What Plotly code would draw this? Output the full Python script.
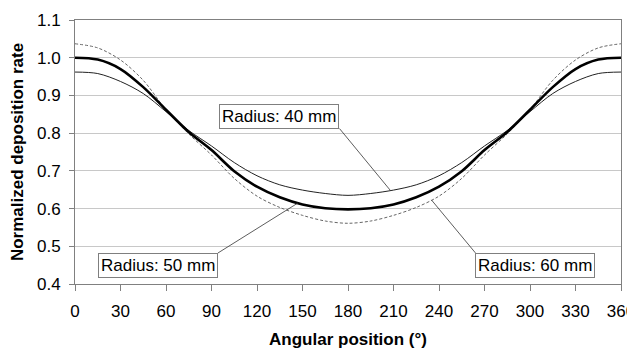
import numpy as np
import plotly.graph_objects as go

angles = [0, 15, 30, 45, 60, 75, 90, 105, 120, 135, 150, 165, 180,
          195, 210, 225, 240, 255, 270, 285, 300, 315, 330, 345, 360]

radius_40 = [0.962, 0.958, 0.937, 0.905, 0.857, 0.807, 0.766, 0.722, 0.687, 0.663, 0.649, 0.640, 0.635,
             0.640, 0.649, 0.663, 0.687, 0.722, 0.766, 0.807, 0.857, 0.905, 0.937, 0.958, 0.962]
radius_50 = [1.000, 0.995, 0.970, 0.922, 0.862, 0.803, 0.755, 0.699, 0.658, 0.630, 0.611, 0.601, 0.598,
             0.601, 0.611, 0.630, 0.658, 0.699, 0.755, 0.803, 0.862, 0.922, 0.970, 0.995, 1.000]
radius_60 = [1.037, 1.026, 0.994, 0.940, 0.862, 0.798, 0.742, 0.680, 0.633, 0.603, 0.582, 0.567, 0.561,
             0.567, 0.582, 0.603, 0.633, 0.680, 0.742, 0.798, 0.862, 0.940, 0.994, 1.026, 1.037]

labels = ["Radius: 40 mm", "Radius: 50 mm", "Radius: 60 mm"]
x_ticks = list(range(0, 361, 30))
y_ticks = [0.4, 0.5, 0.6, 0.7, 0.8, 0.9, 1.0, 1.1]

FONT = "Liberation Sans, Arial, sans-serif"

fig = go.Figure()
fig.add_trace(go.Scatter(x=angles, y=radius_60, mode="lines", name=labels[2],
                         line=dict(color="#666666", width=1, dash="3px,2px", shape="spline", smoothing=0.9)))
fig.add_trace(go.Scatter(x=angles, y=radius_40, mode="lines", name=labels[0],
                         line=dict(color="#222222", width=1, shape="spline", smoothing=0.9)))
fig.add_trace(go.Scatter(x=angles, y=radius_50, mode="lines", name=labels[1],
                         line=dict(color="#000000", width=2.6, shape="spline", smoothing=0.9)))

def tip(series, ang):
    return float(np.interp(ang, angles, series))

ann_common = dict(showarrow=True, arrowhead=0, arrowwidth=0.8, arrowcolor="#333333",
                  bgcolor="white", bordercolor="#7f7f7f", borderwidth=1, borderpad=2,
                  font=dict(family=FONT, size=17, color="black"))
fig.add_annotation(x=208, y=tip(radius_40, 208), text=labels[0], ax=-51, ay=-62,
                   xanchor="right", yanchor="bottom", **ann_common)
fig.add_annotation(x=147, y=tip(radius_50, 147), text=labels[1], ax=-80, ay=50,
                   xanchor="right", yanchor="top", **ann_common)
fig.add_annotation(x=235, y=tip(radius_60, 235), text=labels[2], ax=44, ay=53,
                   xanchor="left", yanchor="top", **ann_common)

# The page body has an 8px margin, so the figure is sized/offset to compensate
fig.update_layout(
    width=635, height=344,
    margin=dict(l=67, r=22, t=12, b=68, autoexpand=False),
    paper_bgcolor="white", plot_bgcolor="white",
    showlegend=False,
    font=dict(family=FONT, size=17, color="black"),
)
fig.update_xaxes(range=[0, 360], tickvals=x_ticks, ticktext=[str(v) for v in x_ticks],
                 ticks="outside", ticklen=6, tickcolor="#808080", showgrid=False,
                 showline=True, linecolor="#808080", linewidth=1, mirror=True, zeroline=False,
                 automargin=False, ticklabelstandoff=6,
                 tickfont=dict(family=FONT, size=17),
                 title=dict(text="<b>Angular position (°)</b>", font=dict(family=FONT, size=17), standoff=12))
fig.update_yaxes(range=[0.4, 1.1], tickvals=y_ticks, ticktext=[f"{v:.1f}" for v in y_ticks],
                 ticks="outside", ticklen=5, tickcolor="#808080", showgrid=True, gridcolor="#c8c8c8",
                 gridwidth=1, showline=True, linecolor="#808080", linewidth=1, mirror=True, zeroline=False,
                 automargin=False, ticklabelstandoff=5,
                 tickfont=dict(family=FONT, size=17),
                 title=dict(text="<b>Normalized deposition rate</b>", font=dict(family=FONT, size=17), standoff=9))

fig.write_html("out.html")
